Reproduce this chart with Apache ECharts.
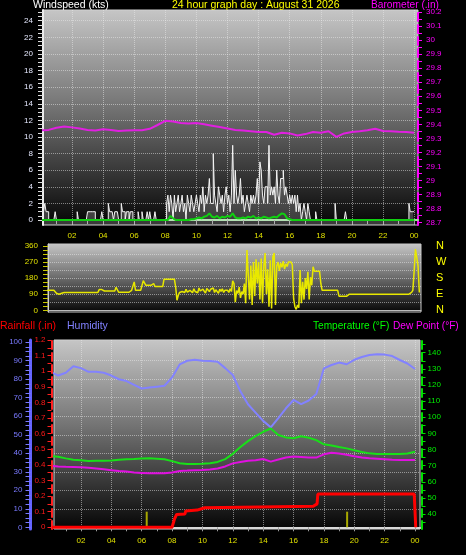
<!DOCTYPE html>
<html><head><meta charset="utf-8">
<script src="https://cdn.jsdelivr.net/npm/echarts@6/dist/echarts.min.js"></script>
<style>html,body{margin:0;padding:0;background:#000;}#c{width:466px;height:555px;}</style>
</head><body><div id="c"></div><script>
// ---------- DATA ----------
const xLabelHours = [2,4,6,8,10,12,14,16,18,20,22,24];
const xLabels = ['02','04','06','08','10','12','14','16','18','20','22','00'];

const windLabels = [0,2,4,6,8,10,12,14,16,18,20,22,24];
const baroLabels = [28.7,28.8,28.9,29,29.1,29.2,29.3,29.4,29.5,29.6,29.7,29.8,29.9,30,30.1,30.2];
const dirLabels = [0,90,180,270,360];
const compassLabels = ['N','E','S','W','N'];
const humLabels = [0,10,20,30,40,50,60,70,80,90,100];
const rainLabels = [0,0.1,0.2,0.3,0.4,0.5,0.6,0.7,0.8,0.9,1,1.1,1.2];
const tempLabels = [40,50,60,70,80,90,100,110,120,130,140];

// wind gust (kts), 5-minute samples, one row per hour
const gustByHour = [
 [0,2,1,2,1,1,0,0,0,0,0,1],
 [0,0,0,0,0,0,0,0,0,0,0,0],
 [0,0,0,0,1,0,0,0,0,0,0,0],
 [1,1,1,1,1,1,0,0,0,0,0,1],
 [0,0,0,0,2,1,1,1,0,1,1,1],
 [0,0,2,1,1,0,1,1,0,1,1,0],
 [0,0,0,1,0,0,1,0,0,0,1,0],
 [1,0,0,0,1,0,0,0,0,0,0,0],
 [0,2,3,1,3,2,0,3,1,2,3,1],
 [2,3,1,2,0,3,2,1,3,2,1,2],
 [3,2,1,3,2,4,1,3,2,3,5,2],
 [2,8,3,2,1,4,3,2,3,1,3,4],
 [2,3,1,3,9,2,6,3,2,3,5,2],
 [3,1,2,3,2,1,3,2,3,2,3,5],
 [2,7,6,3,2,4,4,2,9,3,4,3],
 [4,2,6,3,2,5,5,6,3,4,3,2],
 [3,2,3,2,3,1,3,1,2,0,1,2],
 [1,0,2,1,0,0,0,0,1,0,0,0],
 [0,0,0,0,0,0,0,0,0,0,0,2],
 [0,0,0,0,0,0,0,1,0,0,0,0],
 [0,0,0,0,0,0,0,0,0,0,0,0],
 [0,0,0,0,0,0,0,0,0,0,0,0],
 [0,0,0,0,0,0,0,0,0,0,0,0],
 [0,0,0,0,0,0,0,0,2,1,1,1],
 [1]
];
// average wind (kts), 10-minute samples, one row per hour
const avgByHour = [
 [0,0,0,0,0,0],[0,0,0,0,0,0],[0,0,0,0,0,0],[0,0,0,0,0,0],
 [0,0,0,0,0,0],[0,0,0,0,0,0],[0,0,0,0,0,0],[0,0,0,0,0,0],
 [0,0,0.5,0.2,0,0],
 [0,0,0,0,0.1,0.1],
 [0.2,0.3,0.2,0.4,0.5,0.8],
 [0.4,0.3,0.5,0.2,0.4,0.3],
 [0.5,0.4,0.8,0.3,0.2,0.2],
 [0.3,0.2,0.4,0.3,0.5,0.2],
 [0.3,0.2,0.4,0.3,0.2,0.3],
 [0.4,0.3,0.6,0.8,0.7,0.2],
 [0.1,0,0,0,0,0],
 [0,0,0,0,0,0],[0,0,0,0,0,0],[0,0,0,0,0,0],[0,0,0,0,0,0],
 [0,0,0,0,0,0],[0,0,0,0,0,0],[0,0,0,0,0,0],
 [0]
];
// barometer (in), 30-minute samples
const baro = [29.357,29.36,29.375,29.385,29.378,29.37,29.36,29.355,29.365,29.36,
 29.352,29.355,29.358,29.358,29.368,29.395,29.425,29.42,29.41,29.405,
 29.41,29.4,29.39,29.38,29.37,29.36,29.355,29.35,29.345,29.345,
 29.325,29.34,29.335,29.32,29.33,29.345,29.34,29.35,29.31,29.335,
 29.345,29.35,29.357,29.368,29.352,29.35,29.346,29.345,29.34];
// wind direction (deg), 5-minute samples, one row per hour
const dirByHour = [
 [110,110,110,110,110,110,112,115,112,110,112,110],
 [95,90,90,92,95,100,100,100,100,100,100,100],
 [100,100,100,100,100,100,100,100,100,100,100,100],
 [100,100,100,100,100,100,100,100,100,116,116,116],
 [108,108,108,108,108,108,108,108,108,108,129,118],
 [101,101,101,101,101,101,101,101,101,112,112,112],
 [159,112,112,112,112,112,112,166,166,140,140,140],
 [140,140,150,150,133,133,133,133,133,133,133,174],
 [174,174,174,174,174,174,174,174,130,56,84,100],
 [95,105,110,100,118,102,95,112,108,98,120,105],
 [115,98,125,108,102,118,110,96,122,112,105,118],
 [108,125,100,115,110,95,118,106,120,100,112,108],
 [112,100,120,105,165,150,45,110,95,130,70,105],
 [90,150,40,337,345,60,250,30,270,80,285,150],
 [270,60,290,40,250,320,90,230,20,280,10,300],
 [320,30,250,270,220,265,240,275,230,260,245,270],
 [260,270,255,65,20,5,30,15,225,40,160,60],
 [180,120,215,60,185,140,244,219,219,219,219,219],
 [150,112,112,112,112,112,112,112,112,112,112,112],
 [112,112,79,79,79,79,79,79,79,79,90,90],
 [90,90,90,90,90,90,90,90,90,90,90,90],
 [90,90,90,90,90,90,90,90,90,90,90,90],
 [90,90,90,90,90,90,90,90,90,90,90,90],
 [90,90,90,90,90,90,90,90,90,95,100,112],
 [219,343,343,250,100]
];
// humidity (%), 30-minute samples
const humidity = [84,82,83.5,87,86,84,84,83.5,82,80,
 79,77,75,75.5,76,76.5,81,88,90,90.5,
 90,89.8,89.5,86,82.3,73.5,66.5,62,57.5,54,
 59,64.3,68.8,66.5,68.5,72,85.9,87.7,89,88.1,
 90.5,92,93.1,93.5,93.3,92.5,90.4,88.5,85.5];
// temperature (F), 30-minute samples
const temperature = [76,75.5,74.5,73.7,73.3,72.9,73,73,73.2,73.6,
 74,74.1,74.4,74.5,74.3,74,72.8,71.5,71,71,
 71.1,71.5,72.3,74,77.3,81.5,85.2,88.3,91,93,
 89,87.5,87,88.2,87.3,85.8,83.2,82.5,81.5,80.7,
 79.5,78.4,77.6,77.2,77.2,77.2,77.2,77.5,78.6];
// dew point (F), 30-minute samples
const dewPoint = [69.8,69.5,69.3,69.2,69,68.7,68.2,67.7,67.2,66.7,
 66.3,65.8,65.5,65.2,65.2,65.2,65.8,66.7,66.9,67.2,
 67.3,67.6,68.2,69.5,71.4,72.2,73,73.3,74.1,72.5,
 73.8,75,75.6,75.4,75,75,77,78,77.5,76.8,
 75.8,75,74.5,74.3,74,73.6,73.5,73.5,73.5];
// rainfall (in)
const rainTimes  = [0,8.0,8.15,8.3,8.85,8.9,9.65,9.75,10.15,10.25,17.3,17.35,17.55,17.6,23.95,24.05];
const rainValues = [0,0,0.05,0.082,0.085,0.105,0.11,0.12,0.125,0.135,0.135,0.147,0.15,0.213,0.213,0];
// sunrise / sunset markers
const sunTimes = [6.33,19.53];
const sunValues = [0.1,0.1];

// ---------- BUILD ----------
const flat = a => a.reduce((r, x) => r.concat(x), []);
const series5 = arr => flat(arr).map((v, i) => [i / 12, v]);
const series10 = arr => flat(arr).map((v, i) => [i / 6, v]);
const series30 = arr => arr.map((v, i) => [i / 2, v]);
const range = (a, b, s) => { const r = []; for (let i = 0; a + i * s <= b + 1e-9; i++) r.push(+(a + i * s).toFixed(4)); return r; };

const FONT = '"Liberation Sans", Arial, sans-serif';
const bg = () => ({type:'linear',x:0,y:0,x2:0,y2:1,colorStops:[
  {offset:0,color:'#c6c6c6'},{offset:0.45,color:'#747474'},{offset:1,color:'#050505'}]});
const dotted = {show:true,lineStyle:{type:'dotted',color:'rgba(235,235,235,0.5)',width:1}};
const hourTicks = range(1,24,1);
const xFmt = v => { const i = xLabelHours.findIndex(h => Math.abs(h - v) < 0.01); return i >= 0 ? xLabels[i] : ''; };

const hiddenAxisBits = {axisLine:{show:false},axisLabel:{show:false}};

const option = {
  backgroundColor:'#000',
  animation:false,
  grid:[
    {left:43,top:10,width:375,height:215,show:true,backgroundColor:bg(),borderColor:'#d0d0d0',borderWidth:1,outerBoundsMode:'none'},
    {left:48,top:244,width:373,height:68,show:true,backgroundColor:bg(),borderColor:'#c8c8c8',borderWidth:1,outerBoundsMode:'none'},
    {left:54,top:340,width:366,height:189,show:true,backgroundColor:bg(),borderColor:'#d0d0d0',borderWidth:1,outerBoundsMode:'none'}
  ],
  xAxis:[
    {gridIndex:0,type:'value',position:'bottom',min:0.135,max:24.25,
     axisLine:{lineStyle:{color:'#9fd89f',width:2}},
     axisTick:{customValues:hourTicks,length:4,lineStyle:{color:'#9a9a9a'}},
     axisLabel:{customValues:xLabelHours,formatter:xFmt,color:'#e0e000',fontSize:8,fontFamily:FONT,margin:7},
     splitLine:{show:false}},
    {gridIndex:0,type:'value',position:'top',min:0.135,max:24.25,...hiddenAxisBits,
     axisTick:{show:false,customValues:xLabelHours},splitLine:dotted},
    {gridIndex:1,type:'value',position:'bottom',min:0.457,max:24.44,
     axisLine:{lineStyle:{color:'#bbbbbb',width:1}},axisTick:{show:false},axisLabel:{show:false},splitLine:{show:false}},
    {gridIndex:2,type:'value',position:'bottom',min:0.224,max:24.33,
     axisLine:{lineStyle:{color:'#d8d8d8',width:2}},
     axisTick:{customValues:hourTicks,length:4,lineStyle:{color:'#9a9a9a'}},
     axisLabel:{customValues:xLabelHours,formatter:xFmt,color:'#e0e000',fontSize:8,fontFamily:FONT,margin:8},
     splitLine:{show:false}},
    {gridIndex:2,type:'value',position:'top',min:0.224,max:24.33,...hiddenAxisBits,
     axisTick:{show:false,customValues:xLabelHours},splitLine:dotted}
  ],
  yAxis:[
    // 0 wind
    {gridIndex:0,type:'value',position:'left',min:-0.6,max:25.29,
     axisLine:{show:true,lineStyle:{color:'#ececec',width:2}},
     axisTick:{customValues:range(0,25,0.5),length:5,lineStyle:{color:'#dcdcdc'}},
     axisLabel:{customValues:windLabels,color:'#e6e9ff',fontSize:8,fontFamily:FONT,margin:10},
     splitLine:{show:false}},
    // 1 barometer
    {gridIndex:0,type:'value',position:'right',min:28.6807,max:30.2164,
     axisLine:{show:true,lineStyle:{color:'#ff00ff',width:2,type:'dashed'}},
     axisTick:{customValues:range(28.7,30.2,0.05),length:4,lineStyle:{color:'#ff00ff'}},
     axisLabel:{customValues:baroLabels,formatter:v=>String(+v.toFixed(1)),color:'#ff00ff',fontSize:8,fontFamily:FONT,margin:8},
     splitLine:{show:false}},
    // 2 wind grid lines
    {gridIndex:0,type:'value',position:'left',min:-0.6,max:25.29,...hiddenAxisBits,
     axisTick:{show:false,customValues:windLabels.slice(1)},splitLine:dotted},
    // 3 direction
    {gridIndex:1,type:'value',position:'left',min:-9.5,max:371,
     axisLine:{show:true,lineStyle:{color:'#d0d0d0',width:1}},
     axisTick:{customValues:range(0,360,22.5),length:5,lineStyle:{color:'#c8c800'}},
     axisLabel:{customValues:dirLabels,color:'#e0e000',fontSize:8,fontFamily:FONT,margin:10},
     splitLine:{show:false}},
    // 4 compass
    {gridIndex:1,type:'value',position:'right',min:-9.5,max:371,
     axisLine:{show:false},axisTick:{show:false},
     axisLabel:{customValues:dirLabels,formatter:v=>compassLabels[dirLabels.indexOf(Math.round(v))],
       color:'#ffff00',fontSize:11,fontFamily:FONT,margin:15,align:'left'},
     splitLine:{show:false}},
    // 5 direction grid lines
    {gridIndex:1,type:'value',position:'left',min:-9.5,max:371,...hiddenAxisBits,
     axisTick:{show:false,customValues:range(45,315,45)},splitLine:dotted},
    // 6 humidity
    {gridIndex:2,type:'value',position:'left',offset:23.5,min:-0.92,max:101.2,
     axisLine:{show:true,lineStyle:{color:'#6464ff',width:3}},
     axisTick:{customValues:range(0,100,2.5),length:5,lineStyle:{color:'#7a7aff'}},
     axisLabel:{customValues:humLabels,color:'#7a7aff',fontSize:8,fontFamily:FONT,margin:8},
     splitLine:{show:false}},
    // 7 rainfall
    {gridIndex:2,type:'value',position:'left',offset:2.5,min:-0.011,max:1.2,
     axisLine:{show:true,lineStyle:{color:'#ff2020',width:2,type:'dashed'}},
     axisTick:{customValues:range(0,1.2,0.05),length:4,lineStyle:{color:'#ff2020'}},
     axisLabel:{customValues:rainLabels,formatter:v=>String(+v.toFixed(1)),color:'#ff1a1a',fontSize:8,fontFamily:FONT,margin:6},
     splitLine:{show:false}},
    // 8 temperature / dew point
    {gridIndex:2,type:'value',position:'right',offset:1.5,min:30.7,max:147.9,
     axisLine:{show:true,lineStyle:{color:'#00e000',width:2,type:'dashed'}},
     axisTick:{customValues:range(35,145,5),length:4,lineStyle:{color:'#00e000'}},
     axisLabel:{customValues:tempLabels,color:'#00ee00',fontSize:8,fontFamily:FONT,margin:6},
     splitLine:{show:false}},
    // 9 bottom grid lines
    {gridIndex:2,type:'value',position:'left',min:-0.92,max:101.2,...hiddenAxisBits,
     axisTick:{show:false,customValues:range(10,90,10)},splitLine:dotted}
  ],
  series:[
    {type:'line',xAxisIndex:0,yAxisIndex:1,data:series30(baro),symbol:'none',
     lineStyle:{color:'#e020e0',width:2}},
    {type:'line',xAxisIndex:0,yAxisIndex:0,data:series5(gustByHour),symbol:'none',step:'end',
     lineStyle:{color:'#f4f4f4',width:1},areaStyle:{color:'rgba(255,255,255,0.3)',origin:'start'}},
    {type:'line',xAxisIndex:0,yAxisIndex:0,data:series10(avgByHour),symbol:'none',
     lineStyle:{color:'#10d010',width:2}},
    {type:'line',xAxisIndex:2,yAxisIndex:3,data:series5(dirByHour),symbol:'none',
     lineStyle:{color:'#e8e800',width:1.5}},
    {type:'line',xAxisIndex:3,yAxisIndex:6,data:series30(humidity),symbol:'none',
     lineStyle:{color:'#8282ff',width:2}},
    {type:'line',xAxisIndex:3,yAxisIndex:8,data:series30(dewPoint),symbol:'none',
     lineStyle:{color:'#e010e0',width:2}},
    {type:'line',xAxisIndex:3,yAxisIndex:8,data:series30(temperature),symbol:'none',
     lineStyle:{color:'#18e018',width:2}},
    {type:'bar',xAxisIndex:3,yAxisIndex:7,data:sunTimes.map((t,i)=>[t,sunValues[i]]),barWidth:2,
     itemStyle:{color:'#a8a800'}},
    {type:'line',xAxisIndex:3,yAxisIndex:7,data:rainTimes.map((t,i)=>[t,rainValues[i]]),symbol:'none',
     lineStyle:{color:'#ff0000',width:3}}
  ],
  graphic:[
    {type:'text',left:33,top:0,style:{text:'Windspeed (kts)',fill:'#ffffff',font:'10.5px '+FONT}},
    {type:'text',left:172,top:0,style:{text:'24 hour graph day : August 31 2026',fill:'#ffff00',font:'10.5px '+FONT}},
    {type:'text',left:371,top:0,style:{text:'Barometer (.in)',fill:'#ff00ff',font:'10.2px '+FONT}},
    {type:'text',left:0,top:321,style:{text:'Rainfall (.in)',fill:'#ff0000',font:'10.5px '+FONT}},
    {type:'text',left:67,top:321,style:{text:'Humidity',fill:'#8080ff',font:'10.5px '+FONT}},
    {type:'text',left:313,top:321,style:{text:'Temperature (°F)',fill:'#00ff00',font:'10.1px '+FONT}},
    {type:'text',left:393,top:321,style:{text:'Dew Point (°F)',fill:'#ff00ff',font:'10.1px '+FONT}}
  ]
};
const chart = echarts.init(document.getElementById('c'), null, {renderer:'canvas'});
chart.setOption(option);
</script></body></html>
